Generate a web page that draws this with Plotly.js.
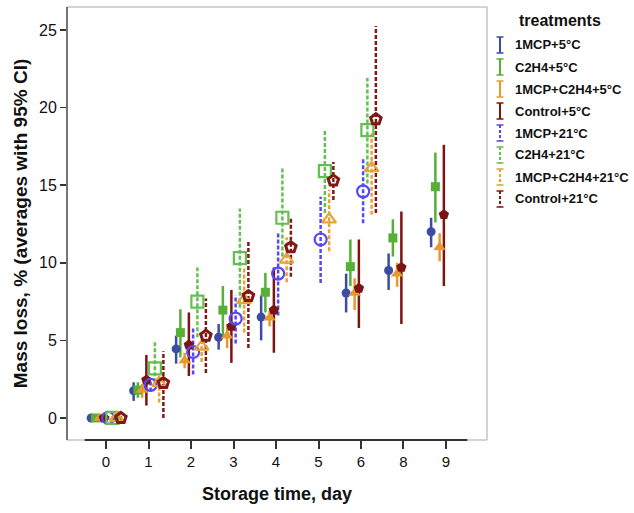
<!DOCTYPE html>
<html><head><meta charset="utf-8">
<script src="https://cdn.plot.ly/plotly-3.0.1.min.js"></script>
<style>html,body{margin:0;padding:0;background:#fff}#chart{width:634px;height:513px}</style>
</head><body><div id="chart"></div>
<script>
// ---- data ----
const dayLabels = ["0","1","2","3","4","5","6","8","9"];
const days5  = ["0","1","2","3","4","6","8","9"];
const days21 = ["0","1","2","3","4","5","6"];
const seriesNames = ["1MCP+5°C","C2H4+5°C","1MCP+C2H4+5°C","Control+5°C","1MCP+21°C","C2H4+21°C","1MCP+C2H4+21°C","Control+21°C"];

const mcp5Mean  = [0, 1.75, 4.45, 5.2, 6.5, 8.05, 9.5, 12.0];
const mcp5Lo    = [-0.12, 1.1, 3.5, 4.4, 5.0, 6.8, 8.25, 11.0];
const mcp5Hi    = [0.12, 2.3, 5.3, 6.05, 7.9, 9.3, 10.6, 12.9];

const c2h45Mean = [0, 1.8, 5.5, 6.95, 8.1, 9.75, 11.6, 14.9];
const c2h45Lo   = [-0.12, 1.3, 3.9, 5.3, 6.8, 8.5, 10.4, 12.6];
const c2h45Hi   = [0.12, 2.3, 7.0, 8.5, 9.35, 11.5, 12.8, 17.1];

const mix5Mean  = [0, 1.8, 3.7, 5.3, 6.45, 8.05, 9.3, 11.0];
const mix5Lo    = [-0.12, 1.3, 3.2, 4.5, 5.9, 6.95, 8.45, 10.1];
const mix5Hi    = [0.12, 2.2, 4.2, 5.9, 6.95, 9.0, 10.0, 11.9];

const ctrl5Mean = [0, 2.45, 4.7, 5.9, 6.95, 8.35, 9.7, 13.1];
const ctrl5Lo   = [-0.12, 0.8, 2.7, 3.55, 4.2, 5.8, 6.05, 8.5];
const ctrl5Hi   = [0.12, 4.06, 6.8, 8.25, 9.7, 11.5, 13.3, 17.6];

const mcp21Mean  = [0, 2.13, 4.25, 6.4, 9.3, 11.5, 14.6];
const mcp21Lo    = [-0.12, 1.7, 2.8, 4.8, 6.6, 8.7, 12.55];
const mcp21Hi    = [0.12, 2.5, 5.8, 7.9, 12.0, 14.25, 16.7];

const c2h421Mean = [0, 3.2, 7.5, 10.3, 12.9, 15.9, 18.55];
const c2h421Lo   = [-0.12, 2.3, 5.2, 7.1, 10.4, 13.2, 15.1];
const c2h421Hi   = [0.12, 5.0, 9.7, 13.5, 16.1, 18.6, 21.9];

const mix21Mean  = [0, 2.25, 4.6, 7.6, 10.2, 12.8, 16.1];
const mix21Lo    = [-0.12, 1.0, 3.6, 5.5, 8.75, 10.75, 13.1];
const mix21Hi    = [0.12, 2.7, 5.1, 9.7, 11.65, 14.7, 18.35];

const ctrl21Mean = [0, 2.25, 5.3, 7.85, 11.0, 15.3, 19.25];
const ctrl21Lo   = [-0.12, 0.0, 2.9, 4.5, 9.1, 14.05, 13.2];
const ctrl21Hi   = [0.12, 4.3, 7.7, 11.4, 12.9, 16.5, 25.25];

const yTicks = [0, 5, 10, 15, 20, 25];

// ---- styles ----
const colors  = ['#3c4ba3','#56b035','#e69a2c','#7b1414','#5548f5','#62c04e','#e8a235','#801818'];
const symbols = ['circle','square','triangle-up','pentagon','circle-open','square-open','triangle-up-open','pentagon-open'];
const sizes   = [9, 9, 11, 11, 12, 12, 12, 11];
const mlw     = [0, 0, 0, 0, 2.2, 2.2, 2.2, 3];
const dashed  = [false,false,false,false,true,true,true,true];

const seriesDays = [days5,days5,days5,days5,days21,days21,days21,days21];
const means = [mcp5Mean,c2h45Mean,mix5Mean,ctrl5Mean,mcp21Mean,c2h421Mean,mix21Mean,ctrl21Mean];
const los   = [mcp5Lo,c2h45Lo,mix5Lo,ctrl5Lo,mcp21Lo,c2h421Lo,mix21Lo,ctrl21Lo];
const his   = [mcp5Hi,c2h45Hi,mix5Hi,ctrl5Hi,mcp21Hi,c2h421Hi,mix21Hi,ctrl21Hi];

const barTraces = [], markerTraces = [];
seriesNames.forEach((name, i) => {
  const off = (i - 3.5) * 0.1;
  const xs = seriesDays[i].map(d => dayLabels.indexOf(d) + off);
  const bx = [], by = [];
  xs.forEach((x, k) => { bx.push(x, x, null); by.push(los[i][k], his[i][k], null); });
  barTraces.push({
    x: bx, y: by, mode: 'lines', showlegend: false, hoverinfo: 'skip',
    line: {color: colors[i], width: 2.5, dash: dashed[i] ? '4px,2px' : 'solid'}
  });
  markerTraces.push({
    x: xs, y: means[i], mode: 'markers', name: name, showlegend: false,
    marker: {symbol: symbols[i], size: sizes[i], color: colors[i],
             line: {color: colors[i], width: mlw[i]}}
  });
});

// ---- pixel helpers for the plot frame ----
const L = 67, R = 487, T = 7, B = 440;
const px = v => (v - L) / (R - L);
const py = v => (B - v) / (B - T);

const shapes = [
  {type:'rect', xref:'paper', yref:'paper', x0:0, x1:1, y0:0, y1:1, line:{color:'#a8a8a8', width:1}},
  {type:'line', xref:'x', yref:'paper', x0:-0.5, x1:8.5, y0:0, y1:0, line:{color:'#333', width:2}},
  {type:'line', xref:'paper', yref:'paper', x0:0, x1:0, y0:0, y1:1, line:{color:'#555', width:1.5}}
];
const annotations = [
  {xref:'paper', yref:'paper', x:px(560), y:py(21), text:'<b>treatments</b>', showarrow:false,
   xanchor:'center', yanchor:'middle', font:{family:'Liberation Sans, Arial', size:16, color:'#111'}}
];
const legY = [45, 67, 89, 111, 133, 155, 177, 199];
seriesNames.forEach((name, i) => {
  const yc = legY[i], xc = 500;
  annotations.push({xref:'paper', yref:'paper', x:px(513), y:py(yc), text:'<b>'+name+'</b>', showarrow:false,
    xanchor:'left', yanchor:'middle', font:{family:'Liberation Sans, Arial', size:13, color:'#111'}});
  shapes.push({type:'line', xref:'paper', yref:'paper', x0:px(xc), x1:px(xc), y0:py(yc-8), y1:py(yc+8),
    line:{color:colors[i], width:2, dash: dashed[i] ? '3px,2px' : 'solid'}});
  shapes.push({type:'line', xref:'paper', yref:'paper', x0:px(xc-3.5), x1:px(xc+3.5), y0:py(yc-8), y1:py(yc-8),
    line:{color:colors[i], width:1.5}});
  shapes.push({type:'line', xref:'paper', yref:'paper', x0:px(xc-3.5), x1:px(xc+3.5), y0:py(yc+8), y1:py(yc+8),
    line:{color:colors[i], width:1.5}});
});

const layout = {
  width: 634, height: 513,
  margin: {l: L, r: 634 - R, t: T, b: 513 - B},
  paper_bgcolor: '#fff', plot_bgcolor: '#fff',
  showlegend: false,
  font: {family: 'Liberation Sans, Arial', color: '#111'},
  xaxis: {
    range: [-0.918, 8.965], tickmode: 'array',
    tickvals: dayLabels.map((d, k) => k), ticktext: dayLabels,
    ticks: 'outside', ticklen: 8, tickwidth: 2, tickcolor: '#333',
    showgrid: false, zeroline: false, showline: false,
    tickfont: {size: 15, color: '#111'},
    title: {text: '<b>Storage time, day</b>', font: {size: 18, color: '#111'}, standoff: 18}
  },
  yaxis: {
    range: [-1.42, 26.48], tickmode: 'array', tickvals: yTicks,
    ticks: 'outside', ticklen: 6, tickwidth: 1.5, tickcolor: '#333',
    showgrid: false, zeroline: false, showline: false,
    tickfont: {size: 16, color: '#111'},
    title: {text: '<b>Mass loss, % (averages with 95% CI)</b>', font: {size: 19, color: '#111'}, standoff: 6}
  },
  shapes: shapes,
  annotations: annotations
};

Plotly.newPlot('chart', barTraces.concat(markerTraces), layout, {displayModeBar: false, staticPlot: true});
</script>
</body></html>
